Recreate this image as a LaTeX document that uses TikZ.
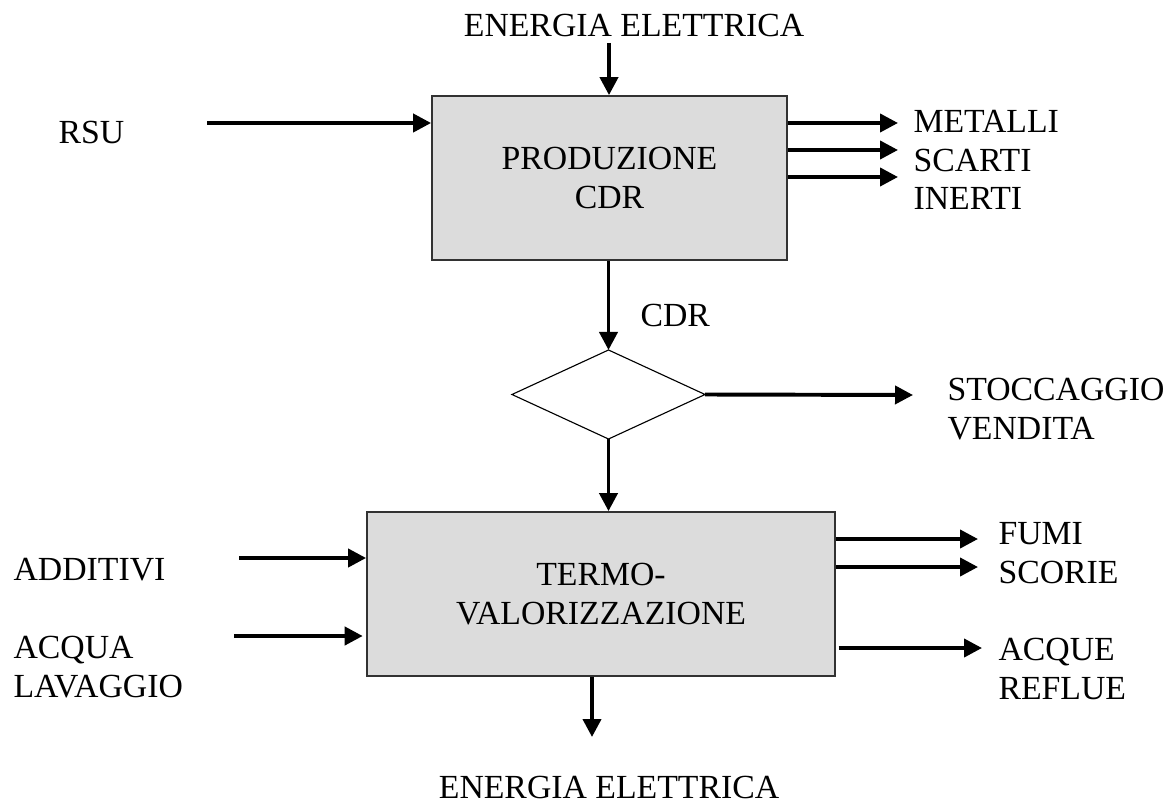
\documentclass[tikz,border=0pt]{standalone}
\usepackage{fontspec}
\setmainfont{Liberation Serif}
\usetikzlibrary{arrows.meta,shapes.geometric}
\definecolor{boxgray}{RGB}{220,220,220}
\definecolor{edgegray}{RGB}{50,50,50}

\begin{document}
\begin{tikzpicture}[x=0.0125cm,y=-0.0125cm,
  every node/.style={font=\fontsize{12}{13.8}\selectfont},
  block/.style={draw=edgegray,fill=boxgray,line width=0.6pt,inner sep=0pt,align=center,
    minimum height=2.05cm},
  choice/.style={draw,diamond,line width=0.4pt,inner sep=0pt,outer sep=0pt,
    minimum width=2.4125cm,minimum height=1.1125cm},
  label/.style={anchor=base west,inner sep=0pt,align=left},
  flow/.style={line width=1.4pt,-{Triangle[length=6.4pt,width=6.4pt]}}]
\useasboundingbox (0,0) rectangle (1168,804);

% boxes
\node[block,minimum width=4.4375cm] (cdr) at (609.5,178) {PRODUZIONE\\CDR};
\node[choice] (sel) at (608.5,394.5) {};
\node[block,minimum width=5.85cm] (tv) at (601,594) {TERMO-\\VALORIZZAZIONE};

% texts (base = last line)
\node[anchor=base,inner sep=0pt] (eeIn) at (634,37) {ENERGIA ELETTRICA};
\node[label] (rsu) at (58,144) {RSU};
\node[label] (out1) at (913,210) {METALLI\\SCARTI\\INERTI};
\node[label] (cdrl) at (640,327) {CDR};
\node[label] (stock) at (947,439) {STOCCAGGIO\\VENDITA};
\node[label] (add) at (13,580) {ADDITIVI};
\node[label] (acq) at (13,697) {ACQUA\\LAVAGGIO};
\node[label] (out2) at (998,583) {FUMI\\SCORIE};
\node[label] (out3) at (998,699) {ACQUE\\REFLUE};
\node[anchor=base,inner sep=0pt] (eeOut) at (609,798) {ENERGIA ELETTRICA};

% free ends
\coordinate (eeA) at (609,43);
\coordinate (rsuA) at (207,123);
\coordinate (m1) at (898,123);
\coordinate (m2) at (898,150);
\coordinate (m3) at (898,177);
\coordinate (st) at (913,395);
\coordinate (adA) at (239,558);
\coordinate (acA) at (234,636);
\coordinate (f1) at (978,539);
\coordinate (f2) at (978,567);
\coordinate (f3) at (982,648);
\coordinate (eeB) at (592,737);

% arrows
\draw[flow] (eeA) -- (eeA |- cdr.north);
\draw[flow] (rsuA) -- (rsuA -| cdr.west);
\draw[flow] (m1 -| cdr.east) -- (m1);
\draw[flow] (m2 -| cdr.east) -- (m2);
\draw[flow] (m3 -| cdr.east) -- (m3);
\draw[flow] (sel.north |- cdr.south) -- (sel.north);
\draw[flow] (sel.east) -- (st);
\draw[flow] (sel.south) -- (sel.south |- tv.north);
\draw[flow] (adA) -- (adA -| tv.west);
\draw[flow] (acA) -- ([xshift=-1.2pt]acA -| tv.west);
\draw[flow] (f1 -| tv.east) -- (f1);
\draw[flow] (f2 -| tv.east) -- (f2);
\draw[flow] ([xshift=1pt]f3 -| tv.east) -- (f3);
\draw[flow] (eeB |- tv.south) -- (eeB);
\end{tikzpicture}
\end{document}
